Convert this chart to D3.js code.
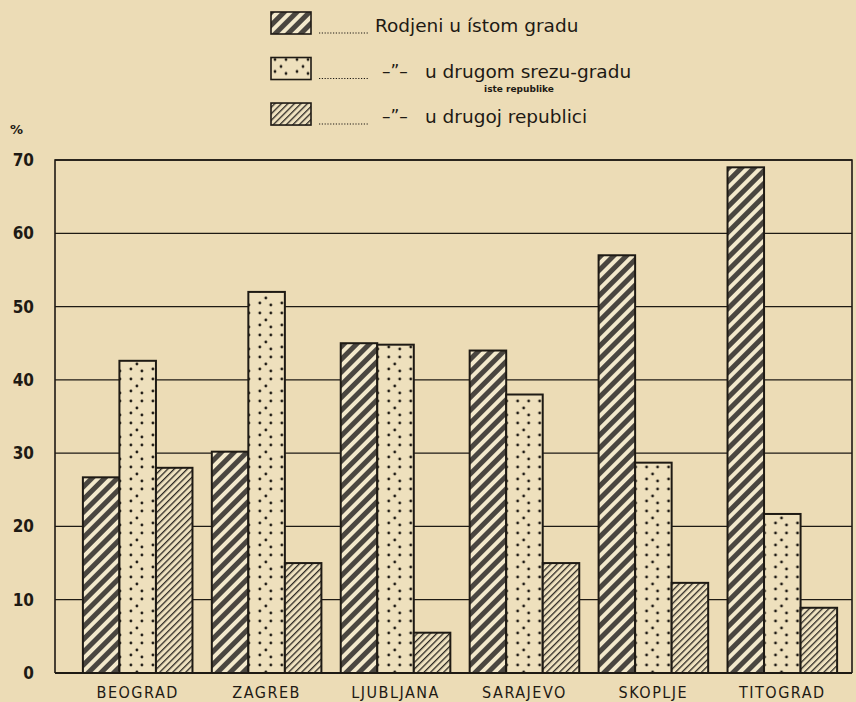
<!DOCTYPE html>
<meta charset="utf-8">
<title>Rodjeni u istom gradu</title>
<style>
body { margin: 0; background: #ecdcb6; }
svg { display: block; }
text { font-family: "DejaVu Sans", sans-serif; fill: #1e1a14; }
</style>
<svg width="856" height="702"></svg>
<script src="https://cdn.jsdelivr.net/npm/d3@7"></script>
<script>

// data (percent)
var cities = ["BEOGRAD", "ZAGREB", "LJUBLJANA", "SARAJEVO", "SKOPLJE", "TITOGRAD"];
var sameCity = [26.7, 30.2, 45, 44, 57, 69];
var sameRepublic = [42.6, 52, 44.8, 38, 28.7, 21.7];
var otherRepublic = [28, 15, 5.5, 15, 12.3, 8.9];
var yTicks = [0, 10, 20, 30, 40, 50, 60, 70];

var seriesKeys = ["same", "rep", "other"];
var seriesFill = { same: "url(#darkHatch)", rep: "url(#dots)", other: "url(#lightHatch)" };
var legendText = [
  { key: "same", label: "Rodjeni u ístom gradu" },
  { key: "rep", ditto: true, label: "u drugom srezu-gradu", sub: "iste republike" },
  { key: "other", ditto: true, label: "u drugoj republici" }
];

var rows = cities.map(function(c, i) {
  return { city: c, same: sameCity[i], rep: sameRepublic[i], other: otherRepublic[i] };
});

var svg = d3.select("svg");
var ink = "#1e1a14";

var plot = { left: 55, right: 852, top: 160, bottom: 673 };

var x0 = d3.scaleBand().domain(cities).range([70, 850]).paddingInner(0.15).paddingOuter(0.1);
var x1 = d3.scaleBand().domain(seriesKeys).range([0, x0.bandwidth()]);
var y = d3.scaleLinear().domain([0, 70]).range([plot.bottom, plot.top]);

// patterns
var defs = svg.append("defs");

var dark = defs.append("pattern").attr("id", "darkHatch")
    .attr("patternUnits", "userSpaceOnUse").attr("width", 9).attr("height", 9)
    .attr("patternTransform", "rotate(45)");
dark.append("rect").attr("width", 9).attr("height", 9).attr("fill", "#f3e9cc");
dark.append("rect").attr("width", 5).attr("height", 9).attr("fill", "#4a4640");

var light = defs.append("pattern").attr("id", "lightHatch")
    .attr("patternUnits", "userSpaceOnUse").attr("width", 4.6).attr("height", 4.6)
    .attr("patternTransform", "rotate(45)");
light.append("rect").attr("width", 4.6).attr("height", 4.6).attr("fill", "#efe2c0");
light.append("rect").attr("width", 1.3).attr("height", 4.6).attr("fill", "#2e2a24");

var dots = defs.append("pattern").attr("id", "dots")
    .attr("patternUnits", "userSpaceOnUse").attr("width", 22).attr("height", 22);
dots.append("rect").attr("width", 22).attr("height", 22).attr("fill", "#eee0bd");
[[4, 5], [15, 5], [10, 12], [4, 17], [15, 19]].forEach(function(p) {
  dots.append("circle").attr("cx", p[0]).attr("cy", p[1]).attr("r", 1.4).attr("fill", ink);
});

// gridlines
svg.append("g")
  .selectAll("line")
  .data(yTicks.filter(function(t) { return t > 0; }))
  .enter().append("line")
    .attr("x1", plot.left).attr("x2", plot.right)
    .attr("y1", function(d) { return y(d); }).attr("y2", function(d) { return y(d); })
    .attr("stroke", ink).attr("stroke-width", 1.3);

// frame
svg.append("path")
    .attr("d", "M" + plot.left + "," + plot.bottom + "V" + plot.top + "H" + plot.right + "V" + plot.bottom)
    .attr("fill", "none").attr("stroke", ink).attr("stroke-width", 1.6);

// y axis labels
var yAxis = d3.axisLeft(y).tickValues(yTicks).tickSize(0).tickPadding(0);
svg.append("g")
    .attr("transform", "translate(34,0)")
    .call(yAxis)
    .call(function(g) { g.select(".domain").remove(); })
    .selectAll("text")
      .style("font-family", "'DejaVu Sans Condensed', sans-serif")
      .style("font-size", "17px").style("font-weight", "bold")
      .attr("fill", ink);

svg.append("text").attr("x", 10).attr("y", 134)
    .style("font-size", "13px").style("font-weight", "bold").text("%");

// bars
var groups = svg.append("g").selectAll("g")
  .data(rows)
  .enter().append("g")
    .attr("transform", function(d) { return "translate(" + x0(d.city) + ",0)"; });

groups.selectAll("rect")
  .data(function(d) { return seriesKeys.map(function(k) { return { key: k, value: d[k] }; }); })
  .enter().append("rect")
    .attr("x", function(d) { return x1(d.key); })
    .attr("width", x1.bandwidth())
    .attr("y", function(d) { return y(d.value); })
    .attr("height", function(d) { return y(0) - y(d.value); })
    .attr("fill", function(d) { return seriesFill[d.key]; })
    .attr("stroke", ink).attr("stroke-width", 2);

// baseline
svg.append("line")
    .attr("x1", plot.left).attr("x2", plot.right)
    .attr("y1", y(0)).attr("y2", y(0))
    .attr("stroke", ink).attr("stroke-width", 2.2);

// x axis labels
var xAxis = d3.axisBottom(x0).tickSize(0).tickPadding(0);
svg.append("g")
    .attr("transform", "translate(0,687)")
    .call(xAxis)
    .call(function(g) { g.select(".domain").remove(); })
    .selectAll("text")
      .style("font-family", "'DejaVu Sans Condensed', sans-serif")
      .style("font-size", "16px").style("letter-spacing", "1.5px")
      .attr("fill", ink);

// legend
var legendY = d3.scaleBand().domain(seriesKeys).range([9, 141]).paddingInner(0.1);

var leg = svg.append("g").selectAll("g")
  .data(legendText)
  .enter().append("g")
    .attr("transform", function(d) { return "translate(271," + legendY(d.key) + ")"; });

leg.append("rect")
    .attr("x", 0).attr("y", 3).attr("width", 40).attr("height", 22)
    .attr("fill", function(d) { return seriesFill[d.key]; })
    .attr("stroke", ink).attr("stroke-width", 1.6);

leg.append("line")
    .attr("x1", 48).attr("x2", 97).attr("y1", 24).attr("y2", 24)
    .attr("stroke", ink).attr("stroke-width", 1.1).attr("stroke-dasharray", "1.2,1.6");

leg.filter(function(d) { return d.ditto; }).append("text")
    .attr("x", 111).attr("y", 22)
    .style("font-size", "17px")
    .text("–\u201D–");

leg.append("text")
    .attr("x", function(d) { return d.ditto ? 154 : 104; })
    .attr("y", 23)
    .style("font-size", "18.5px")
    .text(function(d) { return d.label; });

leg.filter(function(d) { return d.sub; }).append("text")
    .attr("x", 248).attr("y", 37)
    .attr("text-anchor", "middle")
    .style("font-size", "9px").style("font-weight", "bold")
    .text(function(d) { return d.sub; });

</script>
